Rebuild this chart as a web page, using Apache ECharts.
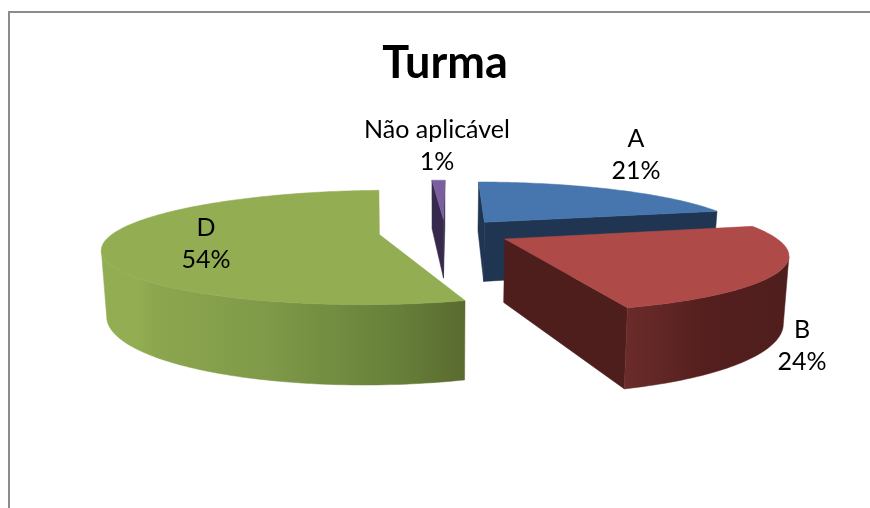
<!DOCTYPE html>
<html><head><meta charset="utf-8">
<style>html,body{margin:0;padding:0;background:#fff}#c{width:870px;height:508px}</style>
<script src="https://cdn.jsdelivr.net/npm/echarts@6/dist/echarts.min.js"></script>
</head><body><div id="c"></div>
<script>
// ---- data ----
const categories = ['A', 'B', 'D', 'Não aplicável'];
const percentages = [21, 24, 54, 1];
// ---- styling and layout, per slice ----
const topColors = ['#4776AE', '#AE4A47', '#93AD53', '#7A5F9E'];
const wallColors = [
  [[0, '#1F3552'], [1, '#1F3552']],
  [[0, '#6B2C2B'], [0.5, '#541F1E'], [1, '#4E1E1D']],
  [[0, '#93AD53'], [0.1, '#93AD53'], [0.14, '#8DA74F'], [0.45, '#7F9A48'], [0.8, '#68813A'], [1, '#5A6B30']],
  [[0, '#362A4C'], [1, '#362A4C']]
];
const labelCentres = [[636, 155], [802, 346], [206, 244], [437, 146]];
// perspective camera of the 3D pie
const cam = { x0: 437, yH: -7, k: 1.108, c: 0.00418, q: 0.00093, depth: 0.258, slant: 0.016, explode: 0.25, u0: 0.031, rotate: 0.7 * Math.PI / 180 };

function project(u, v, low) {            // u: right, v: towards viewer, radius = 1
  const Y = 1 / (cam.c - cam.q * v);
  let x = cam.x0 + cam.k * Y * u, y = cam.yH + Y;
  if (low) { x = cam.x0 + (x - cam.x0) * (1 - cam.slant); y += cam.depth * Y; }
  return [x, y];
}
const total = percentages.reduce((a, b) => a + b, 0);
const eyeV = cam.c / cam.q;
function sliceAngles(i) {
  const before = percentages.slice(0, i).reduce((a, b) => a + b, 0);
  return [cam.rotate + before / total * 2 * Math.PI, cam.rotate + (before + percentages[i]) / total * 2 * Math.PI];
}
function renderSlice(params, api) {
  const i = params.dataIndex;
  const [a0, a1] = sliceAngles(i);
  const mid = (a0 + a1) / 2;
  const cu = cam.u0 + cam.explode * Math.sin(mid), cv = -cam.explode * Math.cos(mid);
  const rim = t => [cu + Math.sin(t), cv - Math.cos(t)];
  const seen = (nu, nv, u, v) => nu * (0 - u) + nv * (eyeV - v) > 0;
  const z = Math.round((cv + 2) * 100);
  const children = [];
  const arc = [];
  const steps = Math.max(6, Math.ceil((a1 - a0) / 0.02));
  for (let s = 0; s <= steps; s++) arc.push(a0 + (a1 - a0) * s / steps);

  const wall = (pts, fill) => children.push({
    type: 'polygon', z2: z, shape: { points: pts },
    style: { fill, stroke: fill, lineWidth: 0.5 }, silent: true
  });
  const grad = new echarts.graphic.LinearGradient(0, 0, 1, 0,
    wallColors[i].map(s => ({ offset: s[0], color: s[1] })));
  const flat = wallColors[i][wallColors[i].length - 1][1];

  // radial walls
  [[a0, -1], [a1, 1]].forEach(([t, sgn]) => {
    const nu = sgn * Math.cos(t), nv = sgn * Math.sin(t);
    if (seen(nu, nv, cu, cv)) {
      const [ru, rv] = rim(t);
      wall([project(cu, cv), project(ru, rv), project(ru, rv, true), project(cu, cv, true)], flat);
    }
  });
  // outer wall: only the part that faces the viewer
  const vis = arc.filter(t => { const [u, v] = rim(t); return seen(Math.sin(t), -Math.cos(t), u, v); });
  if (vis.length > 1) {
    const up = vis.map(t => project(...rim(t)));
    const lo = vis.map(t => project(...rim(t), true)).reverse();
    wall(up.concat(lo), grad);
  }
  // top
  const top = [project(cu, cv)].concat(arc.map(t => project(...rim(t))));
  children.push({ type: 'polygon', z2: z + 1, shape: { points: top },
    style: { fill: topColors[i], stroke: topColors[i], lineWidth: 0.5 }, silent: true });
  // label
  children.push({ type: 'text', z2: 1000, silent: true,
    style: { text: categories[i] + '\n' + api.value(0) + '%', x: labelCentres[i][0], y: labelCentres[i][1],
      align: 'center', verticalAlign: 'middle', font: '25px Lato', lineHeight: 32, fill: '#000' } });
  return { type: 'group', children };
}

const chart = echarts.init(document.getElementById('c'), null, { renderer: 'canvas' });
chart.setOption({
  animation: false,
  backgroundColor: '#fff',
  title: { text: 'Turma', left: 440, top: 58, textAlign: 'center', textVerticalAlign: 'middle',
    textStyle: { fontFamily: 'Lato', fontWeight: 'bold', fontSize: 45, color: '#000' } },
  graphic: [
    { type: 'polyline', silent: true, shape: { points: [[9, 508], [9, 12], [870, 12]] },
      style: { stroke: '#8c8c8c', lineWidth: 2, fill: 'none' } }
  ],
  series: [{
    type: 'custom', coordinateSystem: 'none', renderItem: renderSlice,
    data: percentages.map((p, i) => ({ name: categories[i], value: [p] }))
  }]
});
</script></body></html>
